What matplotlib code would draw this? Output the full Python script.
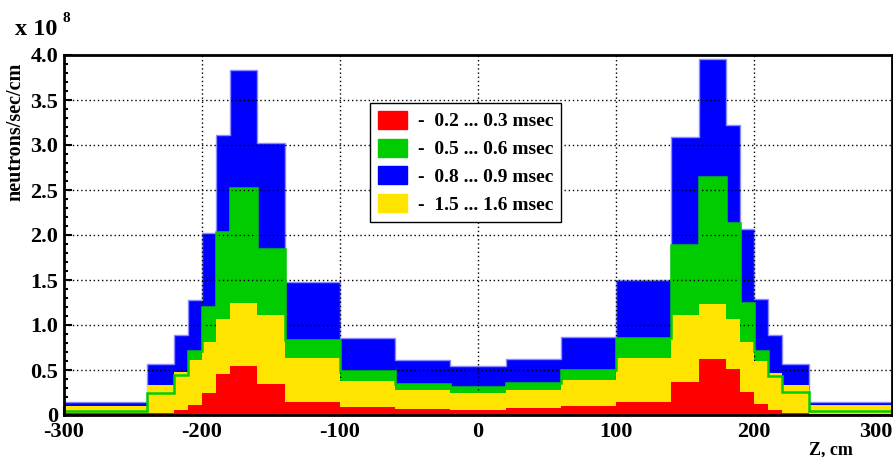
import matplotlib.pyplot as plt
from matplotlib.patches import Patch
from matplotlib.ticker import MultipleLocator

plt.rcParams["font.family"] = ["Liberation Serif", "DejaVu Serif"]
plt.rcParams["font.weight"] = "bold"
plt.rcParams["axes.unicode_minus"] = False

# bin edges along Z (cm)
edges = [-300, -240, -220, -210, -200, -190, -180, -160, -140, -100, -60, -20,
         20, 60, 100, 140, 160, 180, 190, 200, 210, 220, 240, 300]

# neutron flux per bin, units of 1e8 neutrons/sec/cm
red = [0.020, 0.026, 0.055, 0.111, 0.241, 0.456, 0.544, 0.341, 0.144, 0.089, 0.067, 0.056,
       0.078, 0.100, 0.148, 0.363, 0.626, 0.511, 0.252, 0.119, 0.056, 0.026, 0.013]
green = [0.050, 0.245, 0.440, 0.711, 1.204, 2.030, 2.520, 1.840, 0.837, 0.489, 0.348, 0.315,
         0.355, 0.500, 0.859, 1.890, 2.648, 2.130, 1.240, 0.711, 0.435, 0.252, 0.050]
blue = [0.145, 0.567, 0.892, 1.278, 2.020, 3.107, 3.830, 3.020, 1.474, 0.859, 0.607, 0.548,
        0.622, 0.870, 1.500, 3.085, 3.960, 3.219, 2.065, 1.289, 0.889, 0.567, 0.144]
yellow = [0.105, 0.333, 0.475, 0.611, 0.811, 1.063, 1.241, 1.110, 0.633, 0.381, 0.274, 0.244,
          0.278, 0.389, 0.630, 1.111, 1.237, 1.063, 0.811, 0.600, 0.467, 0.333, 0.111]

labels = ["-  0.2 ... 0.3 msec", "-  0.5 ... 0.6 msec", "-  0.8 ... 0.9 msec", "-  1.5 ... 1.6 msec"]
xticks = [-300, -200, -100, 0, 100, 200, 300]
xtick_labels = ["-300", "-200", "-100", "0", "100", "200", "300"]
yticks = [0, 0.5, 1.0, 1.5, 2.0, 2.5, 3.0, 3.5, 4.0]
ytick_labels = ["0", "0.5", "1.0", "1.5", "2.0", "2.5", "3.0", "3.5", "4.0"]
C_RED, C_GREEN, C_BLUE, C_YELLOW = "#ff0000", "#00cc00", "#0000ff", "#ffe400"

W, H = 893, 457
fig = plt.figure(figsize=(W / 100, H / 100), dpi=100)
ax = fig.add_axes([64 / W, (H - 415) / H, 828 / W, 360 / H])

ax.stairs(blue, edges, fill=True, color=C_BLUE, zorder=1)
ax.stairs(blue, edges, baseline=None, color="#8c8cff", lw=1.0, zorder=1.1)
ax.stairs(green, edges, fill=True, color=C_GREEN, zorder=2)
ax.stairs(yellow, edges, fill=True, color=C_YELLOW, zorder=3)
ax.stairs(red, edges, fill=True, color=C_RED, zorder=4)
ax.stairs(green, edges, baseline=None, color=C_GREEN, lw=1.8, zorder=5)

ax.set_xlim(-300, 300)
ax.set_ylim(0, 4.0)
ax.set_xticks(xticks, xtick_labels)
ax.xaxis.set_minor_locator(MultipleLocator(20))
ax.set_yticks(yticks, ytick_labels)
ax.yaxis.set_minor_locator(MultipleLocator(0.1))

ax.grid(True, which="major", color="black", linestyle=(0, (1, 2)), lw=1.0, zorder=6)
ax.set_axisbelow(False)
for sp in ax.spines.values():
    sp.set_linewidth(2.0)
    sp.set_zorder(7)

ax.tick_params(which="both", direction="in", top=False, right=False, width=1.5)
ax.tick_params(which="major", length=6, labelsize=16)
ax.tick_params(which="minor", length=3.2)
ax.tick_params(axis="x", pad=5)
ax.tick_params(axis="y", pad=4)
ax.get_xticklabels()[-1].set_horizontalalignment("right")

ax.set_xlabel("Z, cm", loc="right", fontsize=13, fontweight="bold")
ax.xaxis.set_label_coords((853 - 64) / 828, -0.072)
ax.set_ylabel("neutrons/sec/cm", loc="top", fontsize=14.5, fontweight="bold")
ax.yaxis.set_label_coords((25 - 64) / 828, 0.98)

fig.text(15 / W, 1 - 35 / H, "x 10", fontsize=17.5, fontweight="bold", va="baseline")
fig.text(63 / W, 1 - 22 / H, "8", fontsize=11, fontweight="bold", va="baseline")

handles = [Patch(facecolor=c, edgecolor=c) for c in (C_RED, C_GREEN, C_BLUE, C_YELLOW)]
leg = ax.legend(handles, labels, loc="upper left",
                bbox_to_anchor=(370 / W, 1 - 103 / H), bbox_transform=fig.transFigure,
                fontsize=14, fancybox=False, framealpha=1, edgecolor="black",
                handlelength=1.5, handleheight=1.05, handletextpad=0.55, labelspacing=0.42,
                borderpad=0.4, borderaxespad=0)
leg.get_frame().set_linewidth(1.0)
leg.set_zorder(10)

fig.savefig("out.png", dpi=100)
